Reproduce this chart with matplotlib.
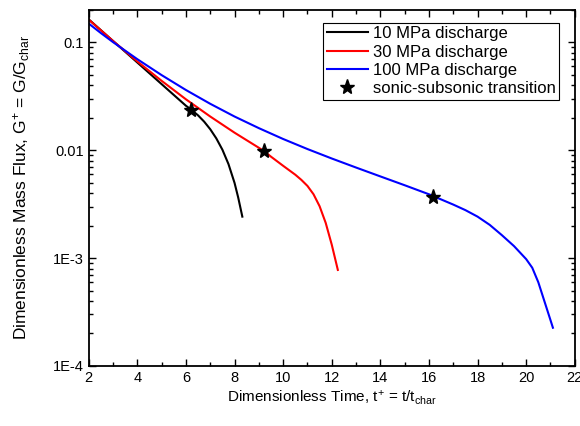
import matplotlib
matplotlib.use("Agg")
import matplotlib.pyplot as plt
from matplotlib.ticker import LogLocator, FixedLocator, MultipleLocator, NullFormatter

plt.rcParams['font.family'] = ['Liberation Sans', 'DejaVu Sans']
plt.rcParams['mathtext.fontset'] = 'custom'
plt.rcParams['mathtext.rm'] = 'Liberation Sans'
plt.rcParams['mathtext.it'] = 'Liberation Sans'
plt.rcParams['mathtext.bf'] = 'Liberation Sans:bold'

# 10 MPa discharge
t10 = [2.0, 3.0, 4.0, 5.0, 6.0, 6.21, 6.5, 6.75, 7.0, 7.25, 7.5, 7.75, 8.0, 8.15, 8.32]
g10 = [0.163, 0.1028, 0.0649, 0.0409, 0.0258, 0.0238, 0.0210, 0.01837, 0.01563, 0.01285,
       0.0101, 0.00743, 0.00497, 0.00364, 0.00242]

# 30 MPa discharge
t30 = [2.0, 3.0, 4.0, 5.0, 6.0, 7.0, 8.0, 9.0, 9.21, 9.5, 10.0, 10.5, 10.75, 11.0, 11.25,
       11.5, 11.75, 12.0, 12.25]
g30 = [0.162, 0.1028, 0.0664, 0.0439, 0.0296, 0.0205, 0.01452, 0.01052, 0.0098, 0.0087,
       0.00716, 0.00592, 0.00530, 0.00466, 0.0039, 0.00302, 0.00212, 0.00133, 0.000776]

# 100 MPa discharge
t100 = [2.0, 2.5, 3.0, 4.0, 5.0, 6.0, 7.0, 8.0, 9.0, 10.0, 11.0, 12.0, 13.0, 14.0, 15.0,
        16.0, 17.0, 17.5, 18.0, 18.5, 19.0, 19.5, 20.0, 20.25, 20.5, 20.75, 21.0, 21.1]
g100 = [0.149, 0.1217, 0.1003, 0.0697, 0.0496, 0.0361, 0.0269, 0.0205, 0.0160, 0.01269,
        0.01024, 0.00837, 0.00690, 0.00571, 0.00473, 0.00390, 0.00313, 0.00278, 0.00242,
        0.00203, 0.00163, 0.00129, 0.000977, 0.000813, 0.000596, 0.000398, 0.000266, 0.000226]

# sonic-subsonic transition points
t_star = [6.21, 9.21, 16.15]
g_star = [0.0238, 0.0098, 0.0037]

labels = ['10 MPa discharge', '30 MPa discharge', '100 MPa discharge', 'sonic-subsonic transition']
y_ticks = [1e-4, 1e-3, 1e-2, 1e-1]
y_ticklabels = ['1E-4', '1E-3', '0.01', '0.1']

fig = plt.figure(figsize=(5.8, 4.26), dpi=100)
ax = fig.add_axes([0.153, 0.141, 0.838, 0.836])

ax.plot(t10, g10, color='black', lw=1.5, label=labels[0])
ax.plot(t30, g30, color='#ff0000', lw=1.5, label=labels[1])
ax.plot(t100, g100, color='#0000ff', lw=1.5, label=labels[2])
ax.plot(t_star, g_star, ls='none', marker='*', color='black', ms=11, label=labels[3])

ax.set_yscale('log')
ax.set_xlim(2, 22)
ax.set_ylim(1e-4, 0.2)

ax.xaxis.set_major_locator(MultipleLocator(2))
ax.xaxis.set_minor_locator(MultipleLocator(1))
ax.yaxis.set_major_locator(FixedLocator(y_ticks))
ax.set_yticklabels(y_ticklabels)
ax.yaxis.set_minor_locator(LogLocator(base=10, subs=range(2, 10)))
ax.yaxis.set_minor_formatter(NullFormatter())

ax.tick_params(which='both', direction='in', top=True, right=True, labelsize=10.5, width=1)
ax.tick_params(which='major', length=5)
ax.tick_params(which='minor', length=3)
for s in ax.spines.values():
    s.set_linewidth(1.3)

ax.set_xlabel(r'Dimensionless Time, t$^{\mathregular{+}}$ = t/t$_{\mathregular{char}}$', fontsize=11, labelpad=3)
ax.set_ylabel(r'Dimensionless Mass Flux, G$^{\mathregular{+}}$ = G/G$_{\mathregular{char}}$', fontsize=12.5, labelpad=15)

leg = ax.legend(loc='upper right', bbox_to_anchor=(0.967, 0.963), borderaxespad=0,
                fancybox=False, edgecolor='black', framealpha=1, fontsize=12,
                handlelength=2.45, handletextpad=0.3, labelspacing=0.2, borderpad=0.2)
leg.get_frame().set_linewidth(0.8)

fig.savefig('out.png', dpi=100)
